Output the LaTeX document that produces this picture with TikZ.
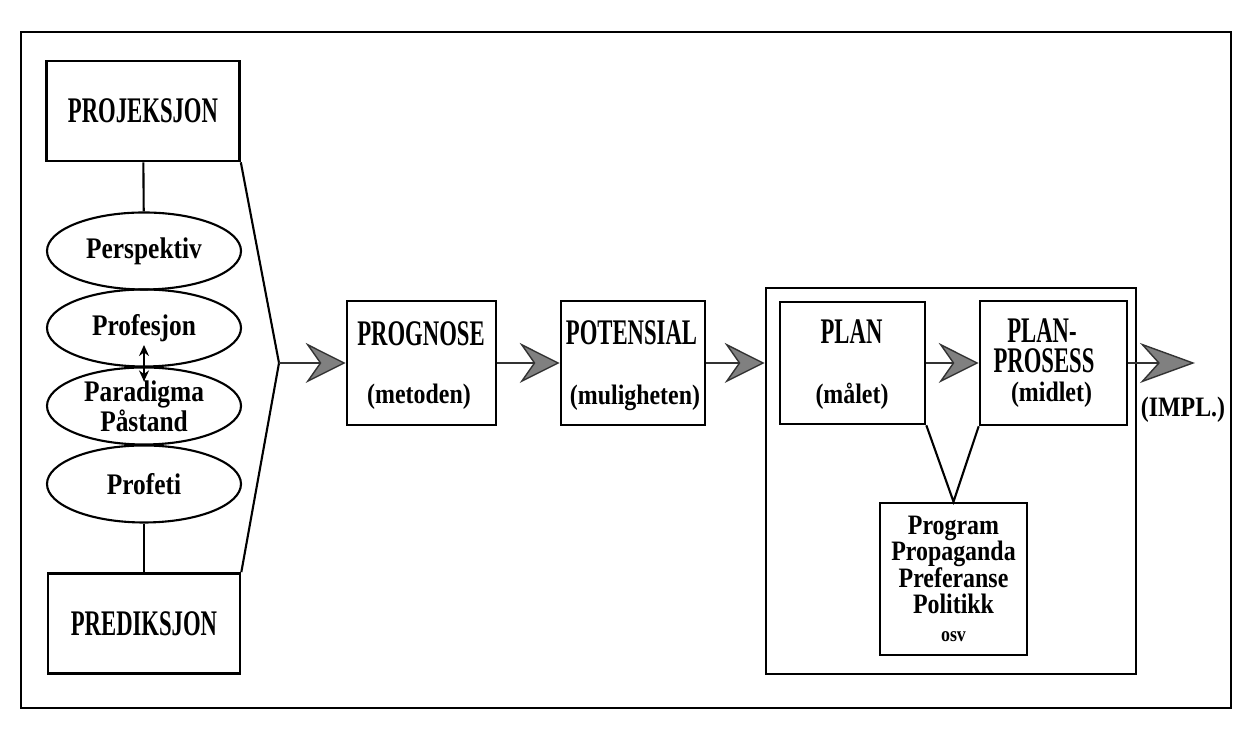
\documentclass[tikz,border=0pt]{standalone}
\usepackage{fontspec}
\setmainfont{Liberation Serif}
\newfontfamily\capfont[FakeStretch=0.63]{Liberation Serif}
\newfontfamily\txtfont[FakeStretch=0.85]{Liberation Serif}
\usepackage{tikz}
\usetikzlibrary{shapes.geometric, arrows.meta, calc}

\tikzset{
	mainbox/.style={draw, line width=1.5pt, inner sep=0pt},
	oval/.style={draw, ellipse, line width=1.2pt, minimum width=3.88cm, minimum height=1.54cm, inner sep=0pt, align=center, font=\txtfont\bfseries\fontsize{17}{15.3}\selectfont},
	captext/.style={font=\capfont\bfseries\fontsize{20.5}{17}\selectfont, align=center, inner sep=0pt},
	subtext/.style={font=\txtfont\bfseries\fontsize{16}{15}\selectfont, align=center, inner sep=0pt},
	link/.style={line width=1.2pt},
	bigarrow/.style={line width=1.2pt, draw=black!80, -{Stealth[length=0.8cm, width=0.8cm, inset=0.28cm, fill=black!50, line width=0.8pt]}},
	longarrow/.style={line width=1.2pt, draw=black!80, -{Stealth[length=1.1cm, width=0.8cm, inset=0.36cm, fill=black!50, line width=0.8pt]}},
}

\begin{document}
\begin{tikzpicture}
	\useasboundingbox (0,0) rectangle (24.94,14.62);
	%frame
	\draw[line width=1.1pt] (0.42,0.46) rectangle (24.62,13.98);
	
	%left column
	\node[mainbox,captext,minimum width=3.86cm,minimum height=2cm] (projeksjon) at (2.86,12.40) {PROJEKSJON};
	\node[oval] (perspektiv) at (2.88,9.60) {Perspektiv};
	\node[oval] (profesjon)  at (2.88,8.06) {Profesjon};
	\node[oval] (paradigma)  at (2.88,6.50) {Paradigma\\Påstand};
	\node[oval] (profeti)    at (2.88,4.94) {Profeti};
	\node[mainbox,captext,minimum width=3.84cm,minimum height=2cm] (prediksjon) at (2.88,2.15) {PREDIKSJON};
	\coordinate (apex) at (5.58,7.36);
	
	%middle boxes
	\node[mainbox,minimum width=2.98cm,minimum height=2.48cm] (prognose)  at (8.43,7.36)  {};
	\node[mainbox,minimum width=2.88cm,minimum height=2.48cm] (potensial) at (12.66,7.36) {};
	
	%right block
	\node[mainbox,minimum width=7.4cm,minimum height=7.72cm]  (plandel)     at (19.02,5.00) {};
	\node[mainbox,minimum width=2.9cm,minimum height=2.44cm]  (plan)        at (17.05,7.36) {};
	\node[mainbox,minimum width=2.94cm,minimum height=2.48cm] (planprosess) at (21.07,7.36) {};
	\node[mainbox,minimum width=2.94cm,minimum height=3.04cm,align=center,font=\txtfont\bfseries\fontsize{16}{15}\selectfont] (program) at (19.07,3.04)
		{Program\\Propaganda\\Preferanse\\Politikk\\[1pt]{\fontsize{12}{12}\selectfont osv}};
	\coordinate (impl) at (23.90,7.36);
	
	%inner labels
	\node[captext] (prognosett)  at (8.42,7.94)  {PROGNOSE};
	\node[subtext] (metoden)     at (8.38,6.68)  {(metoden)};
	\node[captext] (potensialtt) at (12.63,7.96) {POTENSIAL};
	\node[subtext] (muligheten)  at (12.70,6.66) {(muligheten)};
	\node[captext] (plantt)      at (17.03,7.98) {PLAN};
	\node[subtext] (maalet)      at (17.04,6.70) {(målet)};
	\node[captext] (plantt2)     at (20.84,8.00) {PLAN-};
	\node[captext] (prosesstt)   at (20.88,7.40) {PROSESS};
	\node[subtext] (midlet)      at (21.03,6.72) {(midlet)};
	\node[subtext] (impltt)      at (23.66,6.43) {(IMPL.)};
	
	%lines
	\draw[link] (projeksjon) -- (perspektiv);
	\draw[link] (profeti) -- (prediksjon);
	\draw[link] (projeksjon.south east) -- (apex) -- (prediksjon.north east);
	\draw[line width=0.9pt,{Stealth[length=2.2mm,width=2mm]}-{Stealth[length=2.2mm,width=2mm]}] ([yshift=0.45cm]profesjon.south) -- ([yshift=-0.3cm]paradigma.north);
	\draw[link] (plan.south east) -- (program.north) -- (planprosess.south west);
	
	%arrows
	\draw[bigarrow] (apex) -- (prognose.west);
	\draw[bigarrow] (prognose) -- (potensial);
	\draw[bigarrow] (potensial.east) -- (potensial.east -| plandel.west);
	\draw[bigarrow] (plan) -- (planprosess);
	\draw[longarrow] (planprosess.east) -- (impl);
\end{tikzpicture}
\end{document}
